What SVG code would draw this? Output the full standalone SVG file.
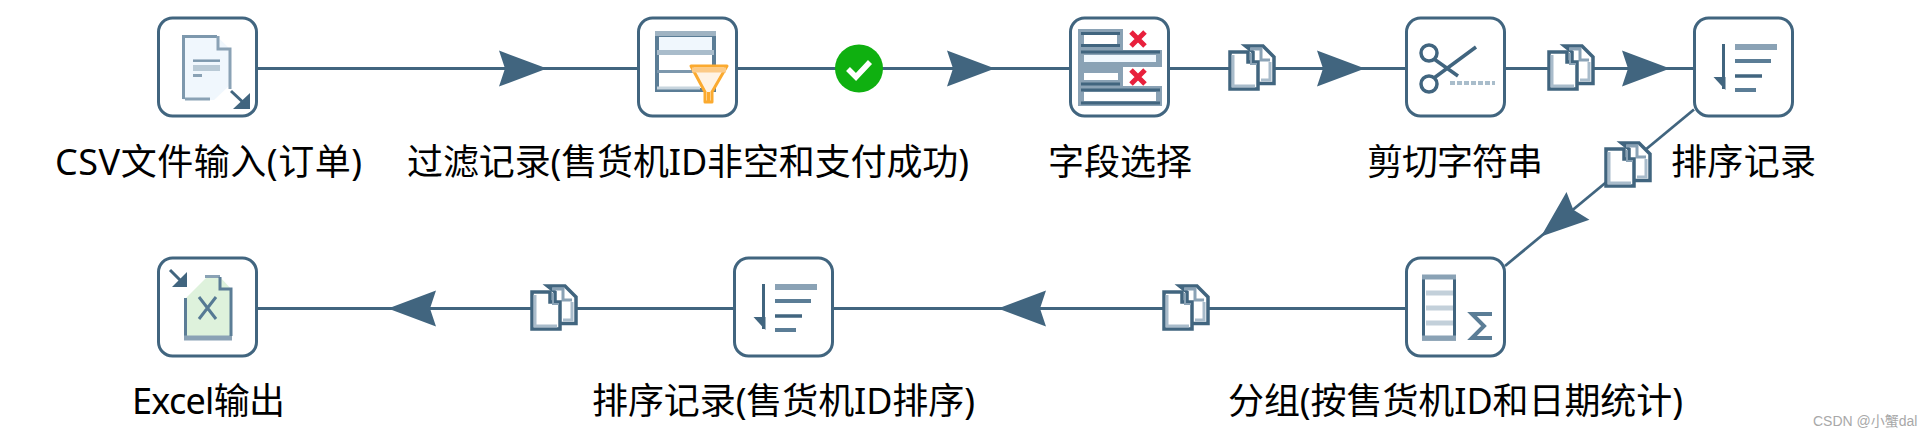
<svg xmlns="http://www.w3.org/2000/svg" xmlns:xlink="http://www.w3.org/1999/xlink" width="1925" height="432" viewBox="0 0 1925 432">
<style>
.box{fill:#fff;stroke:#41657f;stroke-width:3}
.ln{fill:none;stroke:#41657f;stroke-width:2.8}
.hd{fill:#41657f}
.lb{font-family:"Noto Sans","Noto Sans CJK SC",sans-serif;font-size:36px;fill:#000}
.d{stroke:#41657f;fill:none;stroke-width:3}
.m{stroke:#8aa2b5;fill:none;stroke-width:3}
</style>
<defs>
<polygon id="head" points="0,0 -48,-18 -42,0 -48,18"/>
<g id="copy">
<path d="M17.5,2H35L46,13V39.500H25V8Z" fill="#fff" stroke="#41657f" stroke-width="3.500"/>
<path d="M22,5H33V16H42" fill="none" stroke="#8aa2b5" stroke-width="3"/>
<path d="M42,18V36H33" fill="none" stroke="#a9bccb" stroke-width="3"/>
<path d="M2,8H20V18H30V45H2Z" fill="#fff" stroke="#41657f" stroke-width="3.500"/>
<path d="M5,11V42H27" fill="none" stroke="#a9bccb" stroke-width="3"/>
<path d="M23,9V20H29" fill="none" stroke="#8aa2b5" stroke-width="2"/>
</g>
<g id="sort">
<path d="M-20,-23V22" stroke="#41657f" stroke-width="3" fill="none"/>
<path d="M-30,10H-18V23Z" fill="#41657f"/>
<path d="M-8.500,-20H33.500" stroke="#8aa2b5" stroke-width="6" fill="none"/>
<path d="M-8.500,-6H27.500" stroke="#5b7d96" stroke-width="4" fill="none"/>
<path d="M-8.500,9H18.500" stroke="#41657f" stroke-width="3.500" fill="none"/>
<path d="M-8.500,23H12.500" stroke="#5b7d96" stroke-width="4" fill="none"/>
</g>
</defs>
<rect width="1925" height="432" fill="#fff"/>

<g id="connectors">
<path class="ln" d="M258,68.500H637"/>
<use href="#head" class="hd" transform="translate(547,68.500)"/>
<path class="ln" d="M738,68.500H1069"/>
<use href="#head" class="hd" transform="translate(995,68.500)"/>
<circle cx="859" cy="68.500" r="24" fill="#0fb010"/>
<path d="M848,69L856,77L870,62" fill="none" stroke="#fff" stroke-width="5.500"/>
<path class="ln" d="M1170,68.500H1405"/>
<use href="#copy" transform="translate(1228,44)"/>
<use href="#head" class="hd" transform="translate(1365,68.500)"/>
<path class="ln" d="M1506,68.500H1694"/>
<use href="#copy" transform="translate(1547,44)"/>
<use href="#head" class="hd" transform="translate(1670,68.500)"/>
<path class="ln" d="M1694,109.500L1505,266"/>
<use href="#copy" transform="translate(1604,141)"/>
<use href="#head" class="hd" transform="translate(1541,236.500) rotate(140.400)"/>
<path class="ln" d="M1405,308.500H834"/>
<use href="#copy" transform="translate(1162,284)"/>
<use href="#head" class="hd" transform="translate(998,308.500) rotate(180)"/>
<path class="ln" d="M733,308.500H258"/>
<use href="#copy" transform="translate(530,284)"/>
<use href="#head" class="hd" transform="translate(388,308.500) rotate(180)"/>
</g>

<g id="node-csv-input">
<rect class="box" x="158.500" y="18" width="98" height="98" rx="14"/>
<path d="M183,36.500H217L231,50V84L214,100H183Z" fill="#f0f7fd"/>
<path d="M183.500,99V36.500H217" class="d" style="stroke:#7d98ad"/>
<path d="M185,99H210" class="m"/>
<path d="M218,36V49H230V89" class="m"/>
<path d="M193,60.700H220" stroke="#7d98ad" stroke-width="2.500"/>
<path d="M193,68H220" stroke="#b9cad6" stroke-width="6"/>
<path d="M193,75.500H202" stroke="#8aa2b5" stroke-width="3"/>
<path d="M231,91L247,106" class="d"/>
<path d="M250,109H233L250,93Z" class="hd"/>
<text class="lb" x="55" y="175" textLength="307">CSV文件输入(订单)</text>
</g>

<g id="node-filter">
<rect class="box" x="638.500" y="18" width="98" height="98" rx="14"/>
<rect x="657" y="35" width="57" height="55" fill="#fff" stroke="#5b7d96" stroke-width="4"/>
<rect x="659" y="37" width="53" height="13" fill="#f0f7fd"/>
<path d="M655,33.500H716" stroke="#9fb3c2" stroke-width="5"/>
<path d="M657,52.500H714" stroke="#a9bccb" stroke-width="5"/>
<path d="M657,71.500H700" stroke="#7d98ad" stroke-width="3"/>
<path d="M657,88H700" stroke="#c8d5de" stroke-width="3"/>
<path d="M691,66H727L712,92V102H705V92Z" fill="#fff3e4" stroke="#fbaa2f" stroke-width="3" stroke-linejoin="round"/>
<path d="M692,70H726" stroke="#fcca86" stroke-width="5"/>
<path d="M707,92H710V103H707Z" fill="#fbaa2f"/>
<text class="lb" x="407" y="175" textLength="562">过滤记录(售货机ID非空和支付成功)</text>
</g>

<g id="node-select">
<rect class="box" x="1070.500" y="18" width="98" height="98" rx="14"/>
<rect x="1078" y="29" width="45" height="21" fill="#8aa2b5"/>
<rect x="1084" y="35" width="33" height="9" fill="#fff"/>
<path d="M1081,33.500H1120M1081,45.500H1120" stroke="#41657f" stroke-width="3"/>
<rect x="1078" y="50" width="84" height="17" fill="#8aa2b5"/>
<rect x="1084" y="55" width="72" height="7" fill="#f0f7fd"/>
<path d="M1081,52H1160" stroke="#41657f" stroke-width="3"/>
<rect x="1078" y="67" width="45" height="19" fill="#8aa2b5"/>
<rect x="1084" y="73" width="34" height="7" fill="#fff"/>
<path d="M1081,84H1120" stroke="#41657f" stroke-width="3"/>
<rect x="1078" y="86" width="84" height="20" fill="#8aa2b5"/>
<rect x="1084" y="92" width="72" height="9" fill="#fff"/>
<path d="M1081,90H1160M1081,103H1160" stroke="#41657f" stroke-width="3"/>
<path d="M1131,32L1145,46M1145,32L1131,46M1131,70L1145,84M1145,70L1131,84" stroke="#e8203c" stroke-width="5"/>
<text class="lb" x="1048" y="175" textLength="144">字段选择</text>
</g>

<g id="node-cut">
<rect class="box" x="1406.500" y="18" width="98" height="98" rx="14"/>
<circle cx="1429" cy="53" r="8" fill="none" stroke="#41657f" stroke-width="3.500"/>
<circle cx="1429" cy="84" r="8" fill="none" stroke="#41657f" stroke-width="3.500"/>
<path d="M1434,59L1458,76M1434,78L1476,47" fill="none" stroke="#41657f" stroke-width="3.500"/>
<path d="M1450,83H1495" stroke="#a9bdcb" stroke-width="4" stroke-dasharray="5 2"/>
<text class="lb" x="1367" y="175" textLength="176">剪切字符串</text>
</g>

<g id="node-sort">
<rect class="box" x="1694.500" y="18" width="98" height="98" rx="14"/>
<use href="#sort" transform="translate(1743.500,67)"/>
<text class="lb" x="1671" y="175" textLength="145">排序记录</text>
</g>

<g id="node-group">
<rect class="box" x="1406.500" y="258" width="98" height="98" rx="14"/>
<rect x="1423.500" y="277" width="31" height="62" fill="#fff" stroke="#41657f" stroke-width="3"/>
<path d="M1422,277H1456M1422,338H1456" stroke="#8aa2b5" stroke-width="5"/>
<path d="M1426,293H1453M1426,308H1453M1426,323H1453" stroke="#c3d0da" stroke-width="5"/>
<path d="M1492,314H1472L1484,326L1472,338H1492" fill="none" stroke="#5b7d96" stroke-width="4"/>
<text class="lb" x="1228" y="414" textLength="455">分组(按售货机ID和日期统计)</text>
</g>

<g id="node-sort-id">
<rect class="box" x="734.500" y="258" width="98" height="98" rx="14"/>
<use href="#sort" transform="translate(783.500,307)"/>
<text class="lb" x="592" y="414" textLength="383">排序记录(售货机ID排序)</text>
</g>

<g id="node-excel">
<rect class="box" x="158.500" y="258" width="98" height="98" rx="14"/>
<path d="M185,299L207,277H220L232,290V339H185Z" fill="#def2dc"/>
<path d="M185.500,298V338" class="d" style="stroke:#5b7d96"/>
<path d="M184,338H232" stroke="#8aa2b5" stroke-width="5"/>
<path d="M205,276.500H220" stroke="#8aa2b5" stroke-width="3"/>
<path d="M220,277V289H231V336" fill="none" stroke="#5b7d96" stroke-width="3"/>
<path d="M199,297L216,319M216,297L199,319" stroke="#567a94" stroke-width="3"/>
<path d="M170,270L184,284" class="d"/>
<path d="M187,287H172L187,272Z" class="hd"/>
<text class="lb" x="132" y="414" textLength="153">Excel输出</text>
</g>

<text x="1813" y="426" font-family="'Liberation Sans','Noto Sans CJK SC',sans-serif" font-size="14" fill="#a8a8a8">CSDN @小蟹dal</text>
</svg>
